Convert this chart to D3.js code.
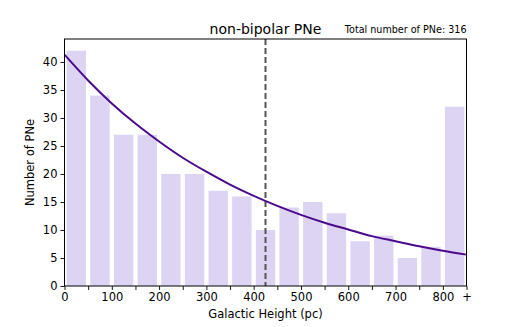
<!DOCTYPE html>
<html>
<head>
<meta charset="utf-8">
<script src="https://cdn.jsdelivr.net/npm/d3@7"></script>
<style>
body { margin: 0; background: #fff; }
text { font-family: "DejaVu Sans", sans-serif; fill: #000; }
</style>
</head>
<body>
<svg id="chart"></svg>
<script>
// bins of 50 pc, the last one is 800+
var binStarts = [0, 50, 100, 150, 200, 250, 300, 350, 400, 450, 500, 550, 600, 650, 700, 750, 800];
var counts = [42, 34, 27, 27, 20, 20, 17, 16, 10, 14, 15, 13, 8, 9, 5, 7, 32];

// fitted exponential
var fitX = [0, 50, 100, 150, 200, 250, 300, 350, 400, 450, 500, 550, 600, 650, 700, 750, 800, 850];
var fitY = [41.3, 36.7, 32.6, 29.0, 25.8, 22.9, 20.4, 18.1, 16.1, 14.3, 12.7, 11.3, 10.1, 8.9, 8.0, 7.1, 6.3, 5.6];

var scaleHeight = 425;
var xTickVals = [0, 50, 100, 150, 200, 250, 300, 350, 400, 450, 500, 550, 600, 650, 700, 750, 800, 850];
var xTickLabels = ["0", "", "100", "", "200", "", "300", "", "400", "", "500", "", "600", "", "700", "", "800", "+"];
var yTickVals = [0, 5, 10, 15, 20, 25, 30, 35, 40];

var W = 518, H = 327;
var m = {left: 64.5, right: 518 - 466.5, top: 39, bottom: 327 - 286};

var svg = d3.select("#chart").attr("width", W).attr("height", H);

var x = d3.scaleLinear().domain([0, 850]).range([m.left, W - m.right]);
var y = d3.scaleLinear().domain([0, 44.1]).range([H - m.bottom, m.top]);

var binW = 50, barFrac = 0.82;

svg.append("g").selectAll("rect")
    .data(counts)
    .enter().append("rect")
    .attr("x", function(d, i){ return x(binStarts[i] + binW * (1 - barFrac) / 2); })
    .attr("width", function(d, i){ return x(binW * barFrac) - x(0); })
    .attr("y", function(d){ return y(d); })
    .attr("height", function(d){ return y(0) - y(d); })
    .style("fill", "#dcd4f2");

// scale height marker
svg.append("line")
    .attr("x1", x(scaleHeight)).attr("x2", x(scaleHeight))
    .attr("y1", y.range()[1]).attr("y2", y.range()[0])
    .style("stroke", "#555")
    .style("stroke-width", 2)
    .style("stroke-dasharray", "6,3");

var line = d3.line()
    .x(function(d, i){ return x(fitX[i]); })
    .y(function(d){ return y(d); })
    .curve(d3.curveMonotoneX);

svg.append("path")
    .datum(fitY)
    .attr("d", line)
    .style("fill", "none")
    .style("stroke", "#4b0a8c")
    .style("stroke-width", 2);

// axes
var xAxis = d3.axisBottom(x)
    .tickValues(xTickVals)
    .tickFormat(function(d, i){ return xTickLabels[i]; })
    .tickSize(4).tickPadding(3);
var gx = svg.append("g").attr("transform", "translate(0," + y(0) + ")").call(xAxis);

var yAxis = d3.axisLeft(y).tickValues(yTickVals).tickSize(4).tickPadding(3);
var gy = svg.append("g").attr("transform", "translate(" + x(0) + ",0)").call(yAxis);

[gx, gy].forEach(function(g){
    g.select(".domain").remove();
    g.selectAll("line").style("stroke", "#000").style("stroke-width", 0.9);
    g.selectAll("text").style("font-size", "11.5px").style("fill", "#000");
});

// frame
svg.append("rect")
    .attr("x", x(0)).attr("y", m.top)
    .attr("width", x(850) - x(0)).attr("height", y(0) - m.top)
    .style("fill", "none").style("stroke", "#000").style("stroke-width", 1);

svg.append("text")
    .attr("x", (x(0) + x(850)) / 2).attr("y", 34)
    .attr("text-anchor", "middle")
    .style("font-size", "14px")
    .text("non-bipolar PNe");

svg.append("text")
    .attr("x", x(850)).attr("y", 33)
    .attr("text-anchor", "end")
    .style("font-size", "9.6px")
    .text("Total number of PNe: " + d3.sum(counts));

svg.append("text")
    .attr("x", (x(0) + x(850)) / 2).attr("y", 318)
    .attr("text-anchor", "middle")
    .style("font-size", "11.5px")
    .text("Galactic Height (pc)");

svg.append("text")
    .attr("transform", "translate(34," + ((m.top + y(0)) / 2) + ") rotate(-90)")
    .attr("text-anchor", "middle")
    .style("font-size", "11.5px")
    .text("Number of PNe");
</script>
</body>
</html>
